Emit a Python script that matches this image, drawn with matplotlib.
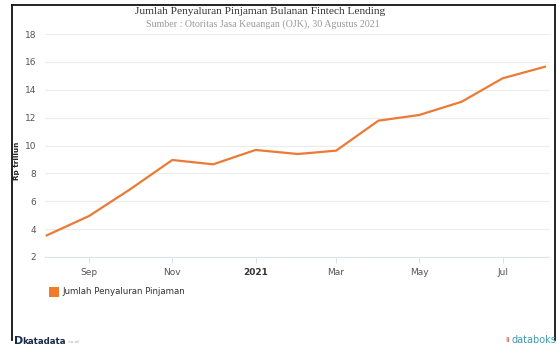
import matplotlib
matplotlib.use("Agg")
import matplotlib.pyplot as plt
from matplotlib.lines import Line2D
from matplotlib.patches import Rectangle
import datetime as dt

months = ["2020-08", "2020-09", "2020-10", "2020-11", "2020-12", "2021-01", "2021-02",
          "2021-03", "2021-04", "2021-05", "2021-06", "2021-07", "2021-08"]
values = [3.55, 4.94, 6.85, 8.96, 8.65, 9.68, 9.39, 9.63, 11.78, 12.19, 13.14, 14.82, 15.65]
tick_months = ["2020-09", "2020-11", "2021-01", "2021-03", "2021-05", "2021-07"]
tick_labels = ["Sep", "Nov", "2021", "Mar", "May", "Jul"]
yticks = [2, 4, 6, 8, 10, 12, 14, 16, 18]

def to_date(s):
    y, m = s.split("-")
    return dt.datetime(int(y), int(m), 1)

dates = [to_date(m) for m in months]
tdates = [to_date(m) for m in tick_months]

W, H = 557, 347
fig = plt.figure(figsize=(W / 100, H / 100), dpi=100)
ax = fig.add_axes([45 / W, 1 - 257 / H, (549 - 45) / W, (257 - 34) / H])

color = "#ec7a35"
ax.plot(dates, values, color=color, lw=1.6, solid_joinstyle="round", zorder=3)

ax.set_ylim(2, 18)
ax.set_yticks(yticks)
ax.set_yticklabels([str(v) for v in yticks], fontsize=6.5, color="#555555")
ax.set_xlim(dt.datetime(2020, 7, 30, 18), dt.datetime(2021, 8, 4))
ax.set_xticks(tdates)
ax.set_xticklabels(tick_labels, fontsize=6.5, color="#555555")
for lbl in ax.get_xticklabels():
    if lbl.get_text() == "2021":
        lbl.set_fontweight("bold")
        lbl.set_color("#333333")

ax.grid(axis="y", color="#ececec", lw=0.8)
ax.set_axisbelow(True)
for s in ["top", "right", "left"]:
    ax.spines[s].set_visible(False)
ax.spines["bottom"].set_color("#dde3ee")
ax.spines["bottom"].set_linewidth(0.8)
ax.tick_params(axis="y", length=0, pad=6.5)
ax.tick_params(axis="x", length=4, color="#dde3ee", pad=4)

ax.set_ylabel("Rp triliun", fontsize=5.2, fontweight="bold", color="#222222")
ax.yaxis.set_label_coords(-0.05, 0.43)

fig.text(260 / W, 1 - 11 / H, "Jumlah Penyaluran Pinjaman Bulanan Fintech Lending",
         family="Liberation Serif", fontsize=8.2, color="#333333", ha="center", va="center")
fig.text(263 / W, 1 - 24 / H, "Sumber : Otoritas Jasa Keuangan (OJK), 30 Agustus 2021",
         family="Liberation Serif", fontsize=7.2, color="#999999", ha="center", va="center")

# legend
fig.patches.append(Rectangle((49 / W, 1 - 297 / H), 10 / W, 10 / H, transform=fig.transFigure,
                             facecolor="#f07c2a", edgecolor="none"))
fig.text(62 / W, 1 - 292 / H, "Jumlah Penyaluran Pinjaman", fontsize=6.2, color="#333333",
         ha="left", va="center")

# frame
fig.lines.append(Line2D([12 / W, 12 / W], [0.02, 1 - 5 / H], transform=fig.transFigure, color="#111111", lw=1.3))
fig.lines.append(Line2D([12 / W, 555 / W], [1 - 5 / H, 1 - 5 / H], transform=fig.transFigure, color="#111111", lw=1.3))
fig.lines.append(Line2D([555 / W, 555 / W], [1 - 5 / H, 1 - 340 / H], transform=fig.transFigure, color="#111111", lw=1.3))

# logos
fig.text(14 / W, 1 - 341 / H, "D", fontsize=8, fontweight="bold", color="#1b2a4a", ha="left", va="center")
fig.text(22 / W, 1 - 341 / H, "katadata", fontsize=6.2, fontweight="bold", color="#1b2a4a", ha="left", va="center")
fig.text(68 / W, 1 - 342 / H, ".co.id", fontsize=3.2, color="#aaaaaa", ha="left", va="center")
fig.text(505 / W, 1 - 340 / H, "ıı", fontsize=6, color="#e5533d", ha="left", va="center")
fig.text(512 / W, 1 - 340 / H, "databoks", fontsize=7, color="#3d9bb0", ha="left", va="center")

fig.savefig("out.png", dpi=100, facecolor="white")
